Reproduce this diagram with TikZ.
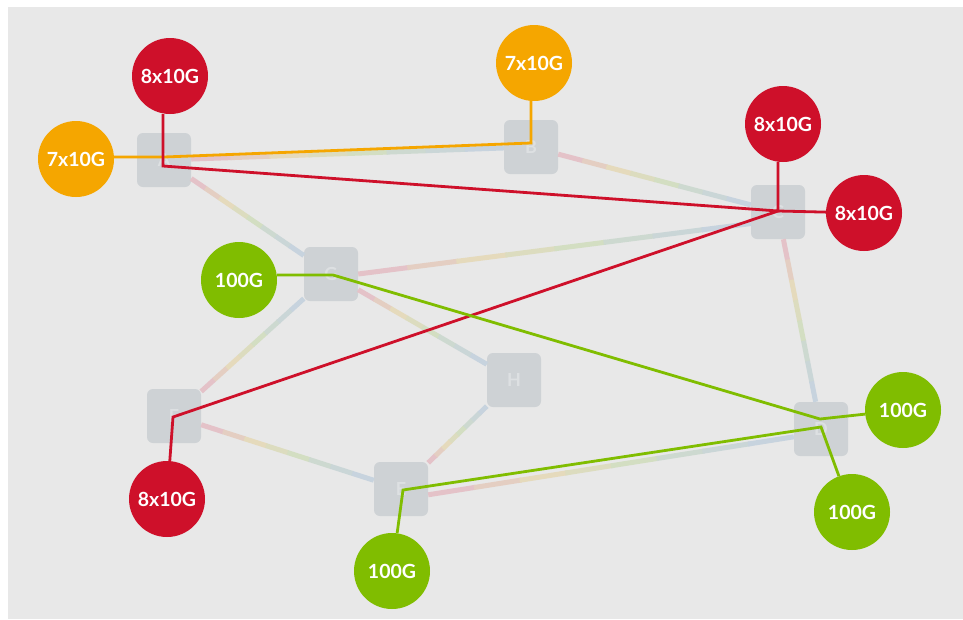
\documentclass[tikz,border=0pt]{standalone}
\usepackage{fontspec}
\setmainfont{Lato}
\usetikzlibrary{calc}

\definecolor{bggray}{RGB}{232,232,232}
\definecolor{swgray}{RGB}{206,210,213}
\definecolor{swtext}{RGB}{221,224,226}
\definecolor{portred}{RGB}{206,16,42}
\definecolor{portorange}{RGB}{245,166,0}
\definecolor{portgreen}{RGB}{128,189,0}
\definecolor{lkpink}{RGB}{228,194,200}
\definecolor{lkyel}{RGB}{229,218,188}
\definecolor{lkgrn}{RGB}{211,222,194}
\definecolor{lkblue}{RGB}{199,211,222}

% pale link, fading pink -> yellow -> green -> blue
\newcommand{\fadelink}[2]{%
  \path (#1) -- (#2) coordinate[pos=0] (f1) coordinate[pos=1] (f2);
  \foreach \ta/\tb/\col in {0/.13/lkpink, .125/.255/lkpink!50!lkyel,
      .25/.38/lkyel, .375/.505/lkyel!50!lkgrn, .5/.63/lkgrn,
      .625/.755/lkgrn!50!lkblue, .75/.88/lkblue!75!lkgrn, .875/1/lkblue}
    \draw[link, draw=\col] ($(f1)!\ta!(f2)$) -- ($(f1)!\tb!(f2)$);
}

\begin{document}
\begin{tikzpicture}[x=1pt, y=-1pt,
    switch/.style={rectangle, rounded corners=6pt, fill=swgray, minimum size=54pt,
        inner sep=0pt, text=swtext, font=\bfseries\fontsize{18}{18}\selectfont},
    port/.style={circle, minimum size=76pt, inner sep=0pt, text=white,
        font=\bfseries\fontsize{19.5}{19.5}\selectfont},
    redport/.style={port, fill=portred},
    orangeport/.style={port, fill=portorange},
    greenport/.style={port, fill=portgreen},
    link/.style={line width=5pt},
    redpath/.style={draw=portred, line width=2.8pt},
    orangepath/.style={draw=portorange, line width=2.8pt},
    greenpath/.style={draw=portgreen, line width=2.8pt}
]

\useasboundingbox (0,0) rectangle (963,619);
\fill[bggray] (8,7) rectangle (963,619);

% switches
\node[switch] (A) at (164,160) {A};
\node[switch] (B) at (531,147) {B};
\node[switch] (C) at (778,212) {C};
\node[switch] (G) at (331,274) {G};
\node[switch] (H) at (514,380) {H};
\node[switch] (F) at (174,416) {F};
\node[switch] (E) at (401,489) {E};
\node[switch] (D) at (821,429) {D};

\fadelink{A}{B}
\fadelink{A}{G}
\fadelink{B}{C}
\fadelink{G.east}{C.203}
\fadelink{F}{G}
\fadelink{G}{H}
\fadelink{E}{H}
\fadelink{F}{E}
\fadelink{E.-12}{D.196}
\fadelink{C}{D}

% ports
\node[redport] (r1) at (170,76) {8x10G};
\node[orangeport] (o1) at (76,159) {7x10G};
\node[orangeport] (o2) at (534,63) {7x10G};
\node[redport] (r2) at (783,124) {8x10G};
\node[redport] (r3) at (864,213) {8x10G};
\node[greenport] (g1) at (239,280) {100G};
\node[redport] (r4) at (167,499) {8x10G};
\node[greenport] (g2) at (392,571) {100G};
\node[greenport] (g3) at (903,410) {100G};
\node[greenport] (g4) at (852,512) {100G};

% bends of the paths
\coordinate (oa) at (164,157);
\coordinate (ob) at (531,143);
\coordinate (ra) at (163,166);
\coordinate (rc) at (778,211);
\coordinate (rf) at (173,417);
\coordinate (gg) at (333,275);
\coordinate (gd1) at (820,419);
\coordinate (ge) at (403,490);
\coordinate (gd2) at (821,427);

\draw[orangepath] (oa -| o1.east) -- (oa) -- (ob) -- (ob |- o2.south);
\draw[redpath] (ra |- r1.south) -- (ra) -- (rc) -- (rc |- r2.south);
\draw[redpath] (rc) -- (r3);
\draw[redpath] (rc) -- (rf) -- (r4);
\draw[greenpath] (gg -| g1.east) -- (gg) -- (gd1) -- (g3);
\draw[greenpath] (g2) -- (ge) -- (gd2) -- (g4);

\end{tikzpicture}
\end{document}
